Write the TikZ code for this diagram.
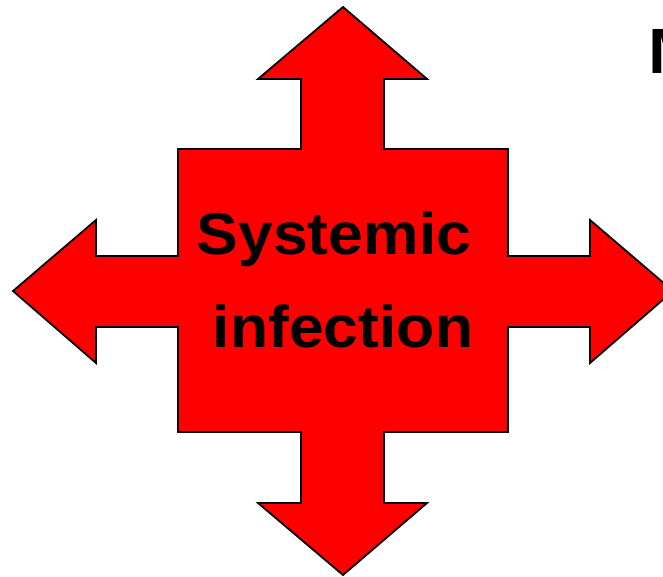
\documentclass[tikz,border=0pt]{standalone}
\usepackage{fontspec}
\setmainfont{Liberation Sans}
\usepackage{tikz}
\usetikzlibrary{positioning}
\definecolor{crossred}{RGB}{255,0,0}

\begin{document}
\begin{tikzpicture}[x=1pt, y=-1pt,
    cross/.style={draw=black, line width=1.8pt, fill=crossred, line join=miter},
    label/.style={font=\bfseries\fontsize{59}{62}\selectfont, inner sep=0pt,
        anchor=base, xscale=1.06, transform shape}
]
    \useasboundingbox (0,0) rectangle (663,576);
    \clip (0,0) rectangle (663,576);
    % four-way arrow
    \draw[cross] (343,7) -- (427,79) -- (384,79) -- (384,149) -- (508,149)
        -- (508,256) -- (590,256) -- (590,220) -- (673,291) -- (590,363)
        -- (590,327) -- (508,327) -- (508,432) -- (384,432) -- (384,503)
        -- (427,503) -- (343,575) -- (258,503) -- (301,503) -- (301,432)
        -- (178,432) -- (178,327) -- (96,327) -- (96,363) -- (13,291)
        -- (96,220) -- (96,256) -- (178,256) -- (178,149) -- (301,149)
        -- (301,79) -- (258,79) -- cycle;
    \node[label] (sys) at (334,254) {Systemic};
    \node[label] (inf) at (343,347) {infection};
    \node[label, anchor=base west, xscale=1, font=\bfseries\fontsize{64}{68}\selectfont] (title) at (648,73) {M};
\end{tikzpicture}
\end{document}
